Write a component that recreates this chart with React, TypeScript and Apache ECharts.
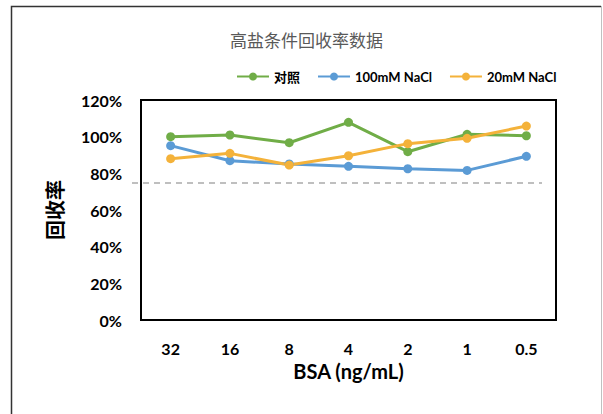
import React, { useEffect, useRef } from "react";
import * as echarts from "echarts";

const categories = ["32", "16", "8", "4", "2", "1", "0.5"];
const controlValues = [100.0, 100.9, 96.7, 107.8, 91.8, 101.3, 100.5];
const nacl100Values = [95.1, 86.9, 85.1, 83.8, 82.5, 81.6, 89.3];
const nacl20Values = [88.0, 90.9, 84.5, 89.6, 96.2, 99.1, 105.8];
const seriesNames = ["对照", "100mM NaCl", "20mM NaCl"];
const thresholdValue = 75;

const FONT = "Lato, 'Noto Sans CJK SC', sans-serif";

export default function App() {
  const ref = useRef<HTMLDivElement>(null);
  useEffect(() => {
    if (!ref.current) return;
    const chart = echarts.init(ref.current, undefined, { renderer: "svg" });
    const lineSeries = (name: string, data: number[], color: string, extra: any = {}) => ({
      name,
      type: "line",
      data,
      symbol: "circle",
      symbolSize: 9,
      lineStyle: { color, width: 3 },
      itemStyle: { color },
      ...extra,
    });
    chart.setOption({
      animation: false,
      backgroundColor: "#fff",
      textStyle: { fontFamily: FONT },
      title: {
        text: "高盐条件回收率数据",
        left: 230,
        top: 32,
        padding: 0,
        textStyle: { fontSize: 17, fontWeight: "normal", color: "#595959", fontFamily: FONT },
      },
      legend: {
        left: 236,
        top: 70,
        padding: 0,
        itemWidth: 32,
        itemHeight: 10,
        itemGap: 17,
        textStyle: { fontSize: 13, fontWeight: "bold", color: "#000", fontFamily: FONT },
        data: seriesNames,
      },
      grid: {
        left: 141,
        right: 47,
        top: 100,
        bottom: 94,
        show: true,
        borderColor: "#000",
        borderWidth: 2,
        backgroundColor: "transparent",
        containLabel: false,
      },
      xAxis: {
        type: "category",
        data: categories,
        boundaryGap: true,
        axisLine: { show: false },
        axisTick: { show: false },
        axisLabel: { margin: 20, fontSize: 16, fontWeight: "bold", color: "#000", fontFamily: FONT },
        name: "BSA (ng/mL)",
        nameLocation: "middle",
        nameGap: 40,
        nameTextStyle: { fontSize: 20, fontWeight: "bold", color: "#000", fontFamily: FONT },
      },
      yAxis: {
        type: "value",
        min: 0,
        max: 120,
        interval: 20,
        axisLine: { show: false },
        axisTick: { show: false },
        splitLine: { show: false },
        axisLabel: {
          margin: 19,
          fontSize: 16,
          fontWeight: "bold",
          color: "#000",
          fontFamily: FONT,
          formatter: "{value}%",
        },
        name: "回收率",
        nameLocation: "middle",
        nameGap: 76,
        nameTextStyle: { fontSize: 20, fontWeight: "bold", color: "#000", fontFamily: FONT },
      },
      graphic: [
        {
          type: "polyline",
          silent: true,
          shape: { points: [[11.5, 420], [11.5, 6.5], [601, 6.5]] },
          style: { stroke: "#333", lineWidth: 1.5, fill: "none" },
        },
        {
          type: "line",
          silent: true,
          shape: { x1: 601.5, y1: 6, x2: 601.5, y2: 414 },
          style: { stroke: "#c0c0c0", lineWidth: 1 },
        },
      ],
      series: [
        lineSeries(seriesNames[0], controlValues, "#70AD47", {
          markLine: {
            silent: true,
            symbol: ["none", "none"],
            label: { show: false },
            lineStyle: { color: "#BFBFBF", width: 2, type: [6, 5] },
            data: [[{ coord: [0, thresholdValue], x: 132 }, { coord: [6, thresholdValue], x: 542 }]],
          },
        }),
        lineSeries(seriesNames[1], nacl100Values, "#5B9BD5"),
        lineSeries(seriesNames[2], nacl20Values, "#F4B23A"),
      ],
    });
    return () => chart.dispose();
  }, []);
  return (
    <div
      ref={ref}
      style={{ position: "fixed", left: 0, top: 0, width: 603, height: 414 }}
    />
  );
}
